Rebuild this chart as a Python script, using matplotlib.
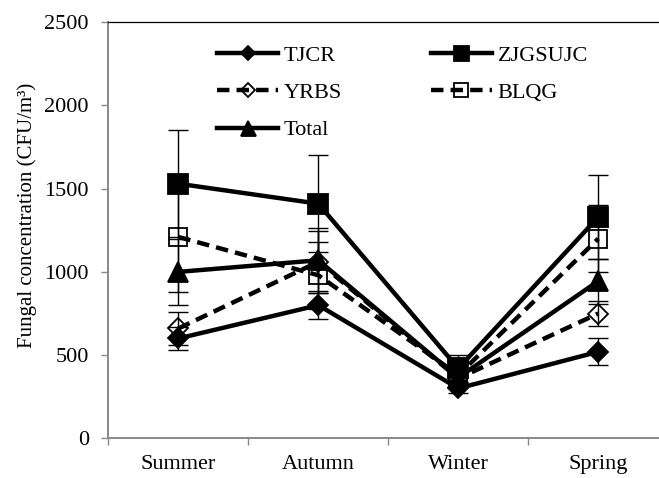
import matplotlib
matplotlib.use("Agg")
import matplotlib.pyplot as plt
import numpy as np

seasons = ["Summer", "Autumn", "Winter", "Spring"]

tjcr = [600, 800, 300, 520]
tjcr_err = [70, 85, 30, 80]
zjgsujc = [1530, 1410, 420, 1330]
zjgsujc_err = [320, 290, 80, 255]
yrbs = [660, 1060, 360, 750]
yrbs_err = [100, 185, 40, 75]
blqg = [1210, 980, 380, 1200]
blqg_err = [330, 200, 40, 200]
total = [1000, 1070, 365, 945]
total_err = [200, 195, 50, 135]

plt.rcParams['font.family'] = ['Liberation Serif', 'DejaVu Serif']

x = np.arange(len(seasons))
dash = (0, (2.8, 1.6))
grey = '#898989'

fig = plt.figure(figsize=(6.59, 4.78), dpi=100)
ax = fig.add_axes([108.3 / 659, 39.7 / 478, 560 / 659, 416 / 478])

# name, values, errors, linestyle, marker, marker size, face colour
series = [
    ("TJCR", tjcr, tjcr_err, '-', 'D', 10.0, 'k'),
    ("ZJGSUJC", zjgsujc, zjgsujc_err, '-', 's', 14.4, 'k'),
    ("YRBS", yrbs, yrbs_err, dash, 'D', 9.7, 'none'),
    ("BLQG", blqg, blqg_err, dash, 's', 13.0, 'none'),
    ("Total", total, total_err, '-', '^', 14.4, 'k'),
]

handles = {}
for name, vals, err, ls, mk, ms, fc in series:
    ax.errorbar(x, vals, yerr=err, fmt='none', ecolor='k', elinewidth=1.0,
                capsize=7.5, capthick=1.0, zorder=3)
    h, = ax.plot(x, vals, color='k', lw=3.2, ls=ls, marker=mk, ms=ms,
                 mfc=fc, mec='k', mew=1.3, label=name, zorder=2)
    handles[name] = h

ax.set_xlim(-0.5, 3.5)
ax.set_ylim(0, 2500)
ax.set_yticks(np.arange(0, 2501, 500))
ax.set_xticks(x)
ax.set_xticklabels(seasons)
ax.set_xticks(np.arange(-0.5, 3.6, 1), minor=True)

ax.tick_params(axis='x', which='major', length=0, pad=12, labelsize=16)
ax.tick_params(axis='x', which='minor', length=5, width=1.0, color=grey)
ax.tick_params(axis='y', length=5, width=1.0, color=grey, pad=9, labelsize=16)

ax.spines['right'].set_visible(False)
ax.spines['top'].set_color('k')
ax.spines['top'].set_linewidth(0.9)
for s in ('left', 'bottom'):
    ax.spines[s].set_color(grey)
    ax.spines[s].set_linewidth(1.4)

ax.set_ylabel("Fungal concentration (CFU/m³)", fontsize=15)
ax.yaxis.set_label_coords(-0.127, 0.537)

order = ["TJCR", "YRBS", "Total", "ZJGSUJC", "BLQG"]
leg = fig.legend(handles=[handles[n] for n in order], ncol=2, loc='upper left',
                 bbox_to_anchor=(217 / 659, 0.905), frameon=False, fontsize=16,
                 handlelength=2.75, handletextpad=0.25, columnspacing=4.0,
                 labelspacing=0.75, borderpad=0, borderaxespad=0)
for ln in leg.get_lines():
    ln.set_markersize(ln.get_markersize() * 0.75)

fig.savefig("out.png", dpi=100)
